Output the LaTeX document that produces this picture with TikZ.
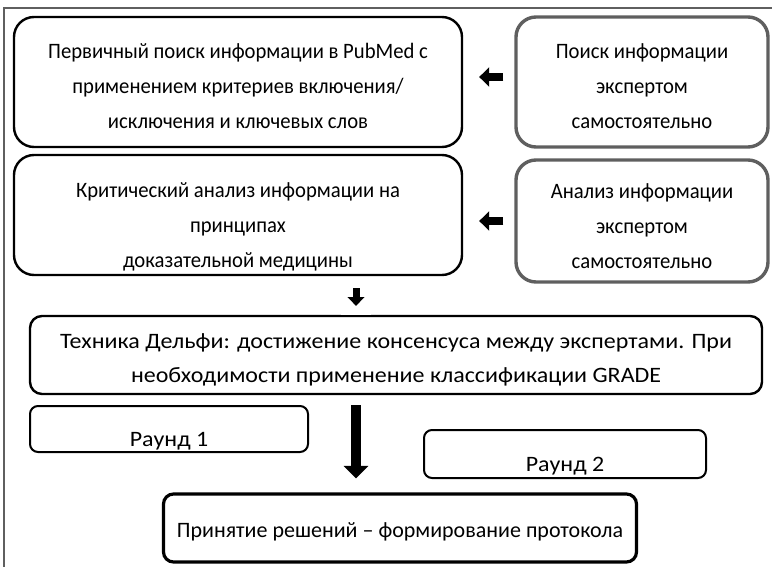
\documentclass[tikz,border=0pt]{standalone}
\usepackage{fontspec}
\setmainfont{Carlito}
\newfontfamily\narrowfont[FakeStretch=0.94]{Carlito}
\newfontfamily\widefont[FakeStretch=1.09]{Carlito}
\usetikzlibrary{arrows.meta}
\definecolor{gris}{RGB}{95,95,95}
\newcommand\lowtop[1]{\rule{0pt}{#1}}

\begin{document}
\begin{tikzpicture}[x=1pt,y=-1pt,font=\fontsize{22}{35}\selectfont,
    box/.style={draw,line width=2.4pt,rounded corners=20pt,align=center,inner sep=0pt},
    narrowbox/.style={box,font=\fontsize{22}{35}\narrowfont},
    graybox/.style={narrowbox,draw=gris,line width=3.4pt},
    roundbox/.style={box,line width=2pt,rounded corners=8pt,font=\fontsize{22}{35}\widefont},
    blk/.style={line width=#1,-{Triangle[length=1.25*#1,width=2.4*#1]}}]
  \useasboundingbox (0,0) rectangle (772,567);
  \draw[line width=1.2pt,gris] (4,567) -- (4,8) -- (772,8);
  \node[narrowbox,minimum width=448,minimum height=130] (pubmed) at (238,82)
    {\lowtop{24pt}Первичный поиск информации в PubMed с\\применением критериев включения/\\исключения и ключевых слов};
  \node[graybox,minimum width=252,minimum height=130] (selfsearch) at (642,82)
    {\lowtop{24pt}Поиск информации\\экспертом\\самостоятельно};
  \node[narrowbox,minimum width=448,minimum height=120] (critic) at (238,215)
    {\lowtop{38pt}Критический анализ информации на\\принципах\\доказательной медицины};
  \node[graybox,minimum width=252,minimum height=122] (selfanalysis) at (642,221)
    {\lowtop{25pt}Анализ информации\\экспертом\\самостоятельно};
  \node[box,rounded corners=12pt,minimum width=732,minimum height=78,font=\fontsize{22}{34}\widefont] (delphi) at (396,355)
    {\lowtop{25pt}Техника Дельфи: достижение консенсуса между экспертами. При\\необходимости применение классификации GRADE};
  \node[roundbox,minimum width=278,minimum height=46] (round1) at (169,429) {\lowtop{38pt}Раунд 1};
  \node[roundbox,minimum width=282,minimum height=48] (round2) at (565,454) {\lowtop{38pt}Раунд 2};
  \node[box,line width=3.2pt,rounded corners=10pt,minimum width=473,minimum height=68] (protocol) at (400,528)
    {\lowtop{23pt}Принятие решений – формирование протокола};
  \coordinate (gap) at (356,0);
  \draw[blk=8pt,shorten <=11pt,shorten >=16pt] ([yshift=5pt]selfsearch.west) -- ([yshift=5pt]selfsearch.west -| pubmed.east);
  \draw[blk=8pt,shorten <=11pt,shorten >=16pt] (selfanalysis.west) -- (selfanalysis.west -| critic.east);
  \fill[white] ([xshift=-15pt]delphi.north -| gap) rectangle ([xshift=15pt,yshift=3pt]delphi.north -| gap);
  \draw[blk=7pt,shorten <=12pt,shorten >=9pt] (critic.south -| gap) -- (delphi.north -| gap);
  \draw[blk=10pt,shorten <=10pt,shorten >=14pt] (delphi.south -| gap) -- (protocol.north -| gap);
\end{tikzpicture}
\end{document}
